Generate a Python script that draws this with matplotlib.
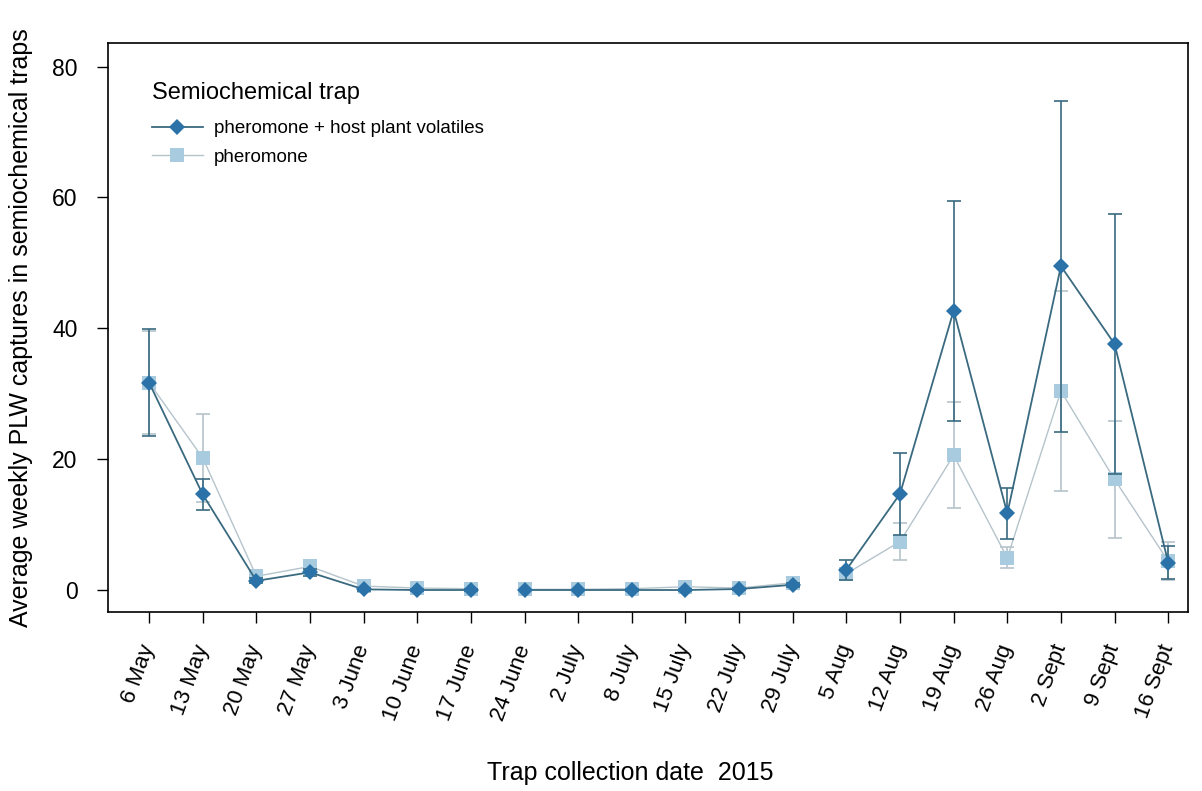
"""Weekly PLW captures in two semiochemical trap types, 2015 season."""
import numpy as np
import matplotlib
matplotlib.use('Agg')
import matplotlib.pyplot as plt
from matplotlib.lines import Line2D

plt.rcParams['font.family'] = ['Liberation Sans', 'DejaVu Sans']

# ── Data ────────────────────────────────────────────────
dates = ['6 May', '13 May', '20 May', '27 May', '3 June', '10 June', '17 June',
         '24 June', '2 July', '8 July', '15 July', '22 July', '29 July',
         '5 Aug', '12 Aug', '19 Aug', '26 Aug', '2 Sept', '9 Sept', '16 Sept']

# pheromone + host plant volatiles
phv_mean = [31.7, 14.6, 1.4, 2.7, 0.1, 0.0, 0.0, 0.0, 0.0, 0.0, 0.0, 0.15, 0.8,
            3.1, 14.7, 42.7, 11.7, 49.5, 37.6, 4.2]
phv_se = [8.2, 2.3, 0.4, 0.5, 0.2, 0.1, 0.1, 0.0, 0.0, 0.1, 0.1, 0.2, 0.3,
          1.5, 6.3, 16.8, 3.9, 25.3, 19.8, 2.5]

# pheromone only
ph_mean = [31.7, 20.2, 2.1, 3.6, 0.6, 0.3, 0.2, 0.1, 0.1, 0.2, 0.5, 0.3, 1.1,
           2.5, 7.4, 20.6, 4.9, 30.4, 16.9, 4.4]
ph_se = [7.9, 6.7, 0.4, 0.5, 0.3, 0.2, 0.2, 0.1, 0.1, 0.2, 0.3, 0.2, 0.4,
         0.8, 2.8, 8.1, 1.6, 15.3, 8.9, 2.9]

# trapping periods drawn as separate line segments
segments = [(0, 7), (7, 13), (13, 20)]

DARK_MK = '#2a72a8'
DARK_LN = '#3a6a80'
LIGHT_MK = '#a8cbe0'
LIGHT_LN = '#b5c4cb'

x = np.arange(len(dates))

fig = plt.figure(figsize=(12.02, 7.91), dpi=100)
ax = fig.add_axes([0.0899, 0.2263, 0.8985, 0.7193])

def draw_series(mean, se, mk, mc, lc, ms, lw, z):
    mean = np.asarray(mean)
    se = np.asarray(se)
    ax.errorbar(x, mean, yerr=se, fmt='none', ecolor=lc, elinewidth=1.2,
                capsize=5, capthick=1.2, zorder=z)
    for a, b in segments:
        ax.plot(x[a:b], mean[a:b], color=lc, linewidth=lw, zorder=z + 0.1)
    ax.plot(x, mean, linestyle='none', marker=mk, color=mc, markersize=ms,
            markeredgewidth=0, zorder=z + 0.2)

draw_series(ph_mean, ph_se, 's', LIGHT_MK, LIGHT_LN, 10, 1.0, 2)
draw_series(phv_mean, phv_se, 'D', DARK_MK, DARK_LN, 8.5, 1.3, 3)

ax.set_xlim(-0.765, 19.37)
ax.set_ylim(-3.36, 83.6)
ax.set_yticks([0, 20, 40, 60, 80])
ax.set_xticks(x)
ax.set_xticklabels(dates, rotation=70, ha='right', va='center',
                   rotation_mode='anchor', fontsize=16)
ax.tick_params(axis='y', labelsize=16.5, length=8, width=1, direction='out', pad=14)
ax.tick_params(axis='x', length=8, width=1, direction='out', pad=16)
for s in ax.spines.values():
    s.set_linewidth(1.2)

ax.set_ylabel('Average weekly PLW captures in semiochemical traps', fontsize=18,
              labelpad=14)
fig.text(0.524, 0.008, 'Trap collection date  2015', ha='center', va='bottom',
         fontsize=18)

handles = [
    Line2D([0], [0], color=DARK_LN, linewidth=1.3, marker='D', markersize=8.5,
           markerfacecolor=DARK_MK, markeredgewidth=0),
    Line2D([0], [0], color=LIGHT_LN, linewidth=1.0, marker='s', markersize=10,
           markerfacecolor=LIGHT_MK, markeredgewidth=0),
]
leg = ax.legend(handles, ['pheromone + host plant volatiles', 'pheromone'],
                title='Semiochemical trap', loc='upper left',
                bbox_to_anchor=(0.025, 0.962), frameon=False, fontsize=13.5,
                title_fontsize=17, handlelength=2.7, labelspacing=0.6,
                handletextpad=0.6)
leg._legend_box.align = 'left'
leg._legend_box.sep = 12

fig.savefig('out.png', dpi=100)
